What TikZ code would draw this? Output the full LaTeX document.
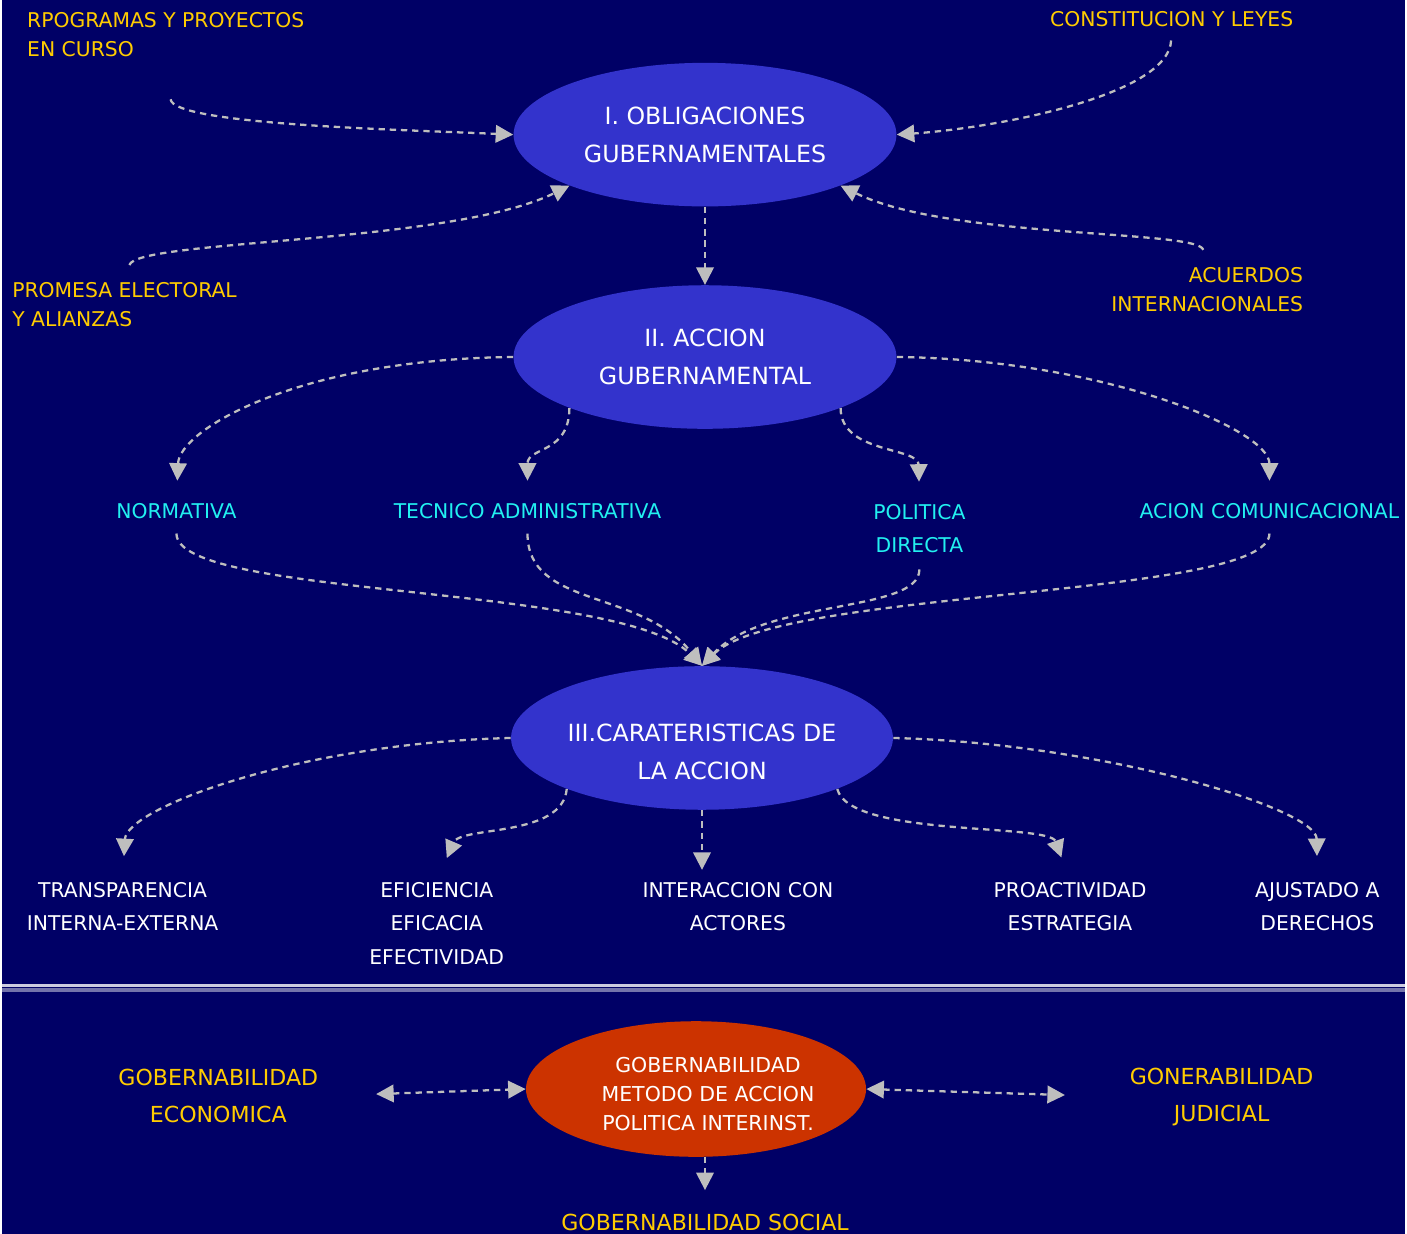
\documentclass[tikz,border=0pt]{standalone}
\usepackage{fontspec}
\setmainfont{DejaVu Sans}
\usepackage{xcolor}
\usepackage{tikz}
\usetikzlibrary{shapes,arrows.meta,positioning}
\definecolor{navy}{HTML}{000066}
\definecolor{goalblue}{HTML}{3333CC}
\definecolor{govred}{HTML}{CC3300}
\definecolor{srcyellow}{HTML}{FFCC00}
\definecolor{modecyan}{HTML}{22F0F0}
\definecolor{linkgray}{HTML}{BEBEBE}

\begin{document}
\begin{tikzpicture}[x=0.02cm, y=-0.02cm,
    goal/.style={ellipse, fill=#1, minimum width=7.68cm, minimum height=2.88cm, inner sep=0pt, text=white, align=center, font=\fontsize{13.5}{21.5}\selectfont},
    goaltext/.style={inner sep=0pt, text=white, align=center, font=\fontsize{13.5}{21.5}\selectfont},
    source/.style={text=srcyellow, inner sep=0pt, font=\fontsize{11.6}{16.4}\selectfont},
    mode/.style={text=#1, inner sep=0pt, align=center, font=\fontsize{11.6}{19.3}\selectfont},
    gov/.style={text=srcyellow, inner sep=0pt, align=center, font=\fontsize{12.6}{21.5}\selectfont},
    link/.style={draw=linkgray, line width=1.3pt, dash pattern=on 3.6pt off 2.8pt, -{Triangle[length=10pt,width=10pt]}},
    twoway/.style={link, {Triangle[length=10pt,width=10pt]}-{Triangle[length=10pt,width=10pt]}}
]
    % Background
    \fill[navy] (0,0) rectangle (1407,1237);

    % Main ellipses
    \node[goal=goalblue] (e1) at (705,135) {I. OBLIGACIONES\\GUBERNAMENTALES};
    \node[goal=goalblue] (e2) at (705,358) {II. ACCION\\GUBERNAMENTAL};
    \node[goal=goalblue, minimum width=7.66cm] (e3) at (702,740) {};
    \node[goaltext] (e3text) at (702,754) {III.CARATERISTICAS DE\\LA ACCION};
    \node[goal=govred, minimum width=6.82cm, minimum height=2.72cm] (e4) at (696,1092) {};
    \node[goaltext, font=\fontsize{11.7}{16.4}\selectfont] (e4text) at (708,1097) {GOBERNABILIDAD\\METODO DE ACCION\\POLITICA INTERINST.};

    % Sources of obligations
    \node[source, align=left, anchor=west] (rpog) at (25,34.5) {RPOGRAMAS Y PROYECTOS\\EN CURSO};
    \node[source] (const) at (1173,19) {CONSTITUCION Y LEYES};
    \node[source, align=left, anchor=west] (prom) at (10,305.5) {PROMESA ELECTORAL\\Y ALIANZAS};
    \node[source, align=right, anchor=east] (acu) at (1305,290.5) {ACUERDOS\\INTERNACIONALES};

    % Modes of action
    \node[mode=modecyan] (norm) at (175,512) {NORMATIVA};
    \node[mode=modecyan] (tec) at (527,512) {TECNICO ADMINISTRATIVA};
    \node[mode=modecyan] (pol) at (920,530) {POLITICA\\DIRECTA};
    \node[mode=modecyan] (acion) at (1271,512) {ACION COMUNICACIONAL};

    % Characteristics
    \node[mode=white] (transp) at (121,909) {TRANSPARENCIA\\INTERNA-EXTERNA};
    \node[mode=white] (efic) at (436,926) {EFICIENCIA\\EFICACIA\\EFECTIVIDAD};
    \node[mode=white] (inter) at (738,909) {INTERACCION CON\\ACTORES};
    \node[mode=white] (proa) at (1071,909) {PROACTIVIDAD\\ESTRATEGIA};
    \node[mode=white] (ajus) at (1319,909) {AJUSTADO A\\DERECHOS};

    % Separator
    \draw[line width=1.6pt, color=white!80!navy] (0,988) -- (1407,988);
    \draw[line width=2.2pt, color=white!45!navy] (0,992.5) -- (1407,992.5);

    % Governability
    \node[gov] (econ) at (217,1099) {GOBERNABILIDAD\\ECONOMICA};
    \node[gov] (jud) at (1223,1100) {GONERABILIDAD\\JUDICIAL};
    \node[gov] (social) at (705,1226) {GOBERNABILIDAD SOCIAL};

    % Arrows into obligations
    \draw[link, shorten <=24.4pt] (rpog.south) .. controls (172,125) and (400,130) .. (e1.west);
    \draw[link, shorten <=7.7pt] (const.south) .. controls (1170,95) and (1000,128) .. (e1.east);
    \draw[link, shorten <=10.2pt] (prom.north) .. controls (135,240) and (450,245) .. (e1.south west);
    \draw[link, shorten <=10.2pt] (acu.north) .. controls (1200,230) and (950,240) .. (e1.south east);
    \draw[link] (e1.south) -- (e2.north);

    % Arrows to modes
    \draw[link, shorten >=12.5pt] (e2.west) .. controls (300,360) and (178,430) .. (norm.north);
    \draw[link, shorten >=12.5pt] (e2.south west) .. controls (569,455) and (527,448) .. (tec.north);
    \draw[link, shorten >=12.5pt] (e2.south east) .. controls (841,455) and (919,448) .. (pol.north);
    \draw[link, shorten >=12.5pt] (e2.east) .. controls (1100,360) and (1271,430) .. (acion.north);

    % Modes converge
    \draw[link, shorten <=8.5pt] (norm.south) .. controls (175,600) and (620,585) .. (e3.north);
    \draw[link, shorten <=8.5pt] (tec.south) .. controls (527,610) and (640,590) .. (e3.north);
    \draw[link, shorten <=9.1pt] (pol.south) .. controls (920,615) and (765,600) .. (e3.north);
    \draw[link, shorten <=8.5pt] (acion.south) .. controls (1271,600) and (780,590) .. (e3.north);

    % Arrows to characteristics
    \draw[link, shorten >=14.6pt] (e3.west) .. controls (300,745) and (125,810) .. (transp.north);
    \draw[link, shorten >=14.6pt] (e3.south west) .. controls (562,840) and (460,828) .. (efic.north);
    \draw[link, shorten >=6.7pt] (e3.south) -- (e3.south |- inter.north);
    \draw[link, shorten >=14.6pt] (e3.south east) .. controls (850,840) and (1050,825) .. (proa.north);
    \draw[link, shorten >=14.6pt] (e3.east) .. controls (1100,745) and (1318,810) .. (ajus.north);

    % Governability links
    \draw[twoway, shorten <=32.9pt] (econ.east) -- (e4.west);
    \draw[twoway, shorten >=36.8pt] (e4.east) -- (jud.west);
    \draw[link, shorten >=13.6pt] (e4.south -| social.north) -- (social.north);
\end{tikzpicture}
\end{document}
